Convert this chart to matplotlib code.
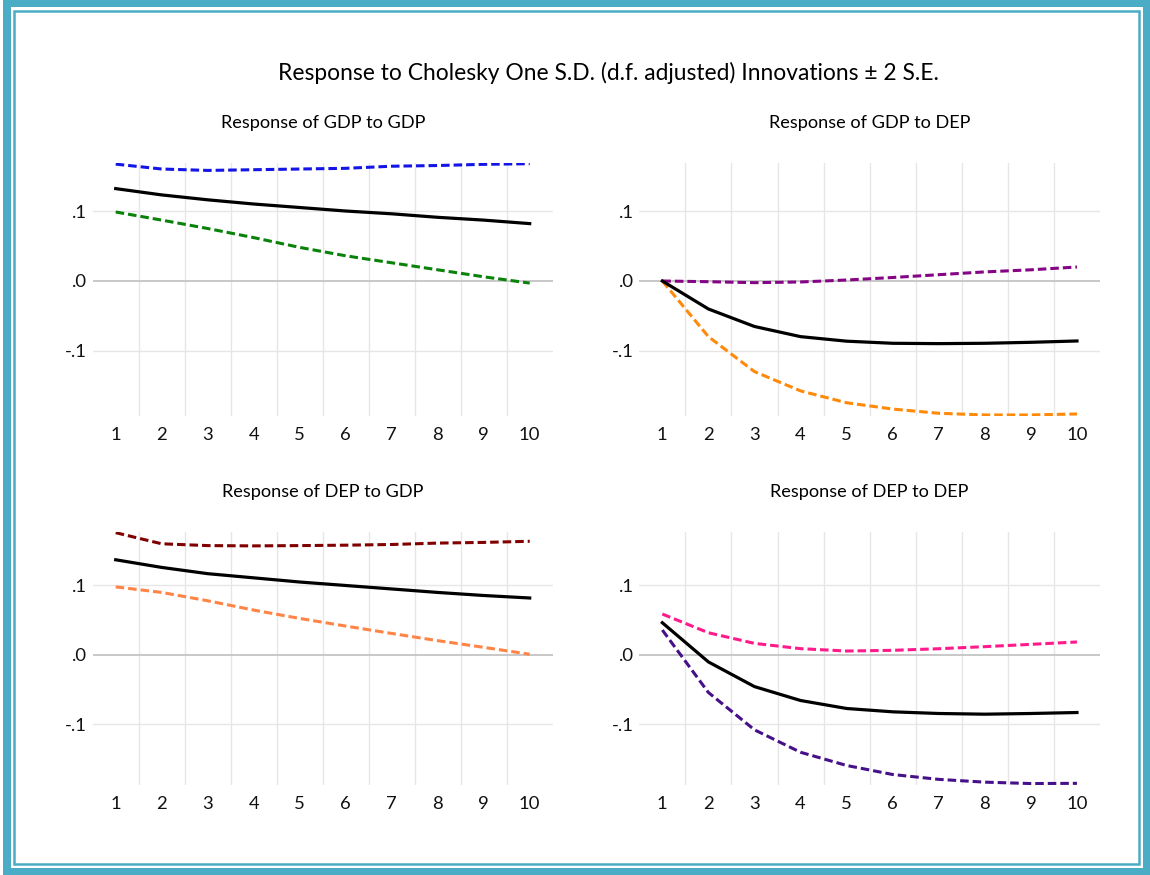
import matplotlib
matplotlib.use("Agg")
import matplotlib.pyplot as plt
from matplotlib.patches import Rectangle
import numpy as np

plt.rcParams["font.family"] = ["Lato", "DejaVu Sans"]

# Impulse response data (periods 1..10)
periods = np.arange(1, 11)

gdp_gdp = [0.132, 0.123, 0.116, 0.110, 0.105, 0.100, 0.096, 0.091, 0.087, 0.082]
gdp_gdp_up = [0.167, 0.160, 0.158, 0.159, 0.160, 0.161, 0.164, 0.165, 0.1667, 0.1676]
gdp_gdp_lo = [0.0986, 0.087, 0.075, 0.062, 0.048, 0.036, 0.026, 0.016, 0.006, -0.003]

gdp_dep = [0.0, -0.040, -0.065, -0.0795, -0.086, -0.089, -0.0895, -0.089, -0.0876, -0.0857]
gdp_dep_up = [0.0, -0.001, -0.0024, -0.0014, 0.0014, 0.005, 0.009, 0.013, 0.016, 0.020]
gdp_dep_lo = [0.0, -0.0795, -0.1295, -0.157, -0.174, -0.183, -0.189, -0.1914, -0.1914, -0.190]

dep_gdp = [0.137, 0.126, 0.117, 0.111, 0.105, 0.100, 0.095, 0.090, 0.0856, 0.082]
dep_gdp_up = [0.176, 0.160, 0.1574, 0.157, 0.1574, 0.158, 0.159, 0.161, 0.162, 0.1636]
dep_gdp_lo = [0.098, 0.090, 0.078, 0.0646, 0.0526, 0.0416, 0.031, 0.0206, 0.011, 0.001]

dep_dep = [0.0464, -0.010, -0.0455, -0.0655, -0.077, -0.0818, -0.0842, -0.0852, -0.0842, -0.0828]
dep_dep_up = [0.0589, 0.032, 0.0167, 0.0091, 0.0057, 0.0067, 0.009, 0.012, 0.0153, 0.0187]
dep_dep_lo = [0.0359, -0.054, -0.1077, -0.140, -0.159, -0.172, -0.179, -0.183, -0.185, -0.1847]

panels = [
    ("Response of GDP to GDP", gdp_gdp, gdp_gdp_up, gdp_gdp_lo, "#1414E6", "#0A820A"),
    ("Response of GDP to DEP", gdp_dep, gdp_dep_up, gdp_dep_lo, "#850485", "#FF8A0A"),
    ("Response of DEP to GDP", dep_gdp, dep_gdp_up, dep_gdp_lo, "#800000", "#FF8445"),
    ("Response of DEP to DEP", dep_dep, dep_dep_up, dep_dep_lo, "#FF1A8C", "#45108A"),
]

W, H = 1150, 875
fig = plt.figure(figsize=(W / 100, H / 100), dpi=100)

# axes rectangles in pixels: left, top, right, bottom
boxes = [
    (92.7, 163, 552.7, 416),
    (639.3, 163, 1100, 416),
    (92.7, 531.7, 552.7, 785),
    (639.3, 531.7, 1100, 785),
]
ylims = [(-0.1929, 0.1686), (-0.1929, 0.1686), (-0.1871, 0.1774), (-0.1871, 0.1774)]

for (title, mid, up, lo, c_up, c_lo), (l, t, r, b), yl in zip(panels, boxes, ylims):
    ax = fig.add_axes([l / W, 1 - b / H, (r - l) / W, (b - t) / H])
    for s in ax.spines.values():
        s.set_visible(False)
    ax.set_xlim(0.5, 10.5)
    ax.set_ylim(*yl)
    for xv in np.arange(1.5, 10, 1):
        ax.axvline(xv, color="#E6E6E6", lw=1, zorder=0)
    for yv in (-0.1, 0.1):
        ax.axhline(yv, color="#E6E6E6", lw=1, zorder=0)
    ax.axhline(0, color="#C4C4C4", lw=1.3, zorder=0)

    ax.plot(periods, up, color=c_up, lw=2.2, linestyle=(0, (2.8, 1.3)))
    ax.plot(periods, lo, color=c_lo, lw=2.2, linestyle=(0, (2.8, 1.3)))
    ax.plot(periods, mid, color="black", lw=2.3)

    ax.set_xticks(periods)
    ax.set_yticks([-0.1, 0.0, 0.1])
    ax.set_yticklabels(["-.1", ".0", ".1"])
    ax.tick_params(length=0, labelsize=13.3, colors="#111111", pad=4)
    ax.tick_params(axis="x", pad=8)
    ax.set_title(title, fontsize=13.1, pad=25)

fig.text(608 / W, 1 - 73 / H,
         "Response to Cholesky One S.D. (d.f. adjusted) Innovations \u00b1 2 S.E.",
         ha="center", va="center", fontsize=16.4)

# double border frame
band = "#4BACC6"
for x0, y0, w, h in [(3, 0, 1147, 7.3), (3, 867.7, 1147, 7.3), (3, 0, 8, 875), (1143, 0, 7, 875)]:
    fig.patches.append(Rectangle((x0 / W, 1 - (y0 + h) / H), w / W, h / H,
                                 transform=fig.transFigure, color=band, lw=0))
fig.patches.append(Rectangle((14 / W, 1 - 864.3 / H), (1139 - 14) / W, (864.3 - 11.3) / H,
                             transform=fig.transFigure, fill=False, edgecolor=band, lw=1.8))

fig.savefig("out.png", dpi=100)
